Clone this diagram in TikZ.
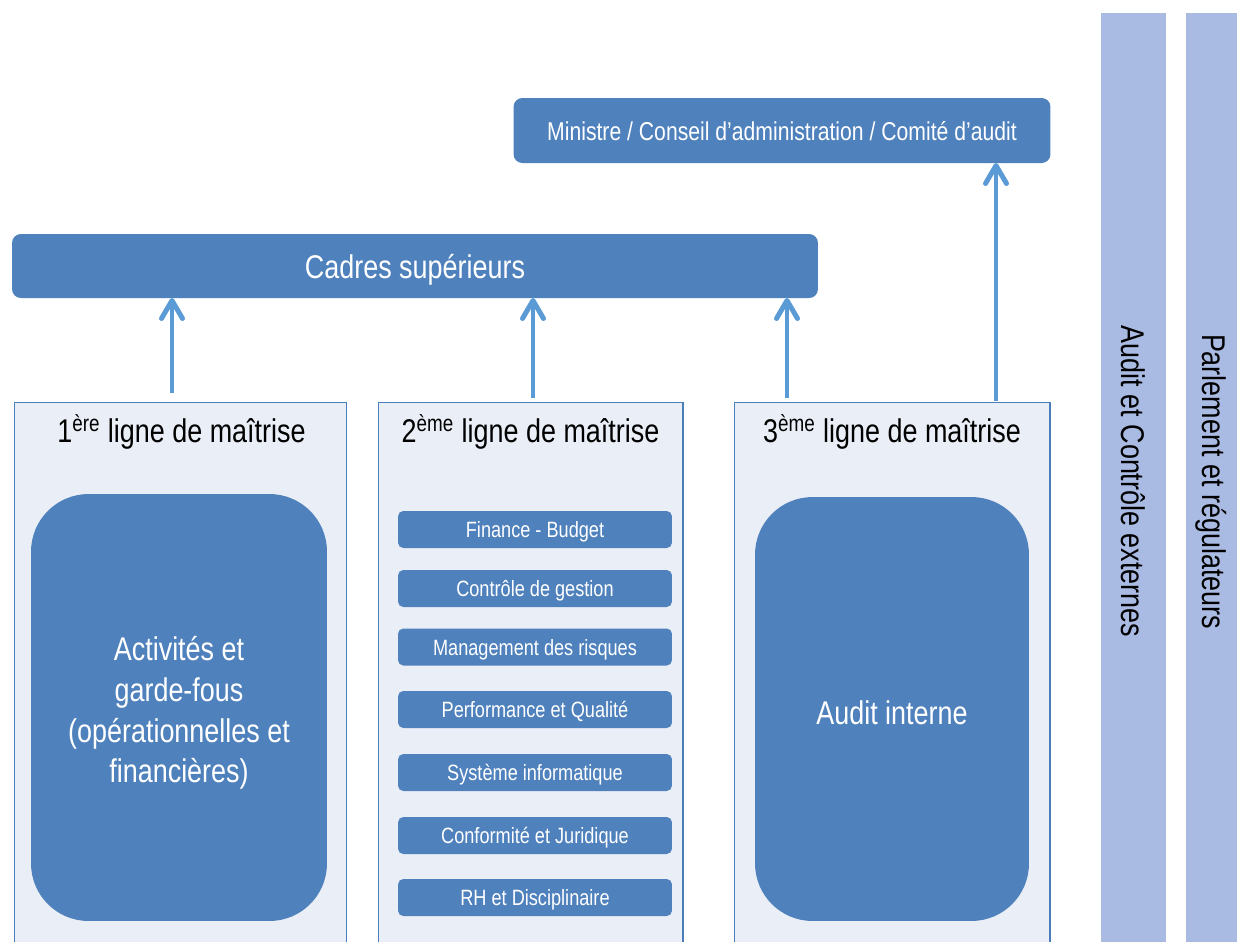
\documentclass[tikz,border=0pt]{standalone}
\usepackage{fontspec}
\setmainfont{Liberation Sans}[FakeStretch=0.82]
\usetikzlibrary{arrows.meta}
\definecolor{boxblue}{HTML}{4F81BD}
\definecolor{arrblue}{HTML}{5B9BD5}
\definecolor{colfill}{HTML}{EAEEF6}
\definecolor{colline}{HTML}{4A7EBB}
\definecolor{barblue}{HTML}{A9BAE3}
\newcommand{\bigtxt}{\fontsize{18.7pt}{23.2pt}\selectfont}
\newcommand{\midtxt}{\fontsize{14.7pt}{17pt}\selectfont}
\newcommand{\smalltxt}{\fontsize{12.6pt}{15pt}\selectfont}
\begin{document}
\begin{tikzpicture}[x=0.02cm,y=-0.02cm,
  bluebox/.style={fill=boxblue, draw=none, text=white, inner sep=0pt, outer sep=0pt, align=center},
  colbox/.style={fill=colfill, draw=colline, line width=0.6pt, inner sep=0pt, outer sep=0pt},
  smallbox/.style={bluebox, rounded corners=3pt, minimum width=5.48cm, minimum height=0.74cm, font=\smalltxt, text depth=0pt},
  bigbox/.style={bluebox, rounded corners=1.15cm},
  bigtext/.style={text=white, align=center, font=\bigtxt, inner sep=0pt},
  barbox/.style={fill=barblue, draw=none, inner sep=0pt, outer sep=0pt, rotate=-90, font=\bigtxt},
  head/.style={font=\bigtxt, text=black, inner sep=0pt},
  arr/.style={draw=arrblue, line width=2.83pt, -{Straight Barb[length=0.36cm, width=0.42cm, round]}}
]
\useasboundingbox (0,0) rectangle (1237,941);
\clip (0,0) rectangle (1237,941);
\fill[white] (0,0) rectangle (1237,941);

% right bars
\node[barbox, minimum width=18.74cm, minimum height=1.30cm] (bar1) at (1133.5,481.5) {Audit et Contrôle externes};
\node[barbox, minimum width=18.74cm, minimum height=1.02cm] (bar2) at (1211.5,481.5) {Parlement et régulateurs};

% top boxes
\node[bluebox, rounded corners=5pt, minimum width=10.74cm, minimum height=1.30cm, font=\midtxt, text depth=0pt] (mini) at (782,130.5) {Ministre / Conseil d’administration / Comité d’audit};
\node[bluebox, rounded corners=5pt, minimum width=16.12cm, minimum height=1.28cm, font=\bigtxt, text depth=0pt] (cadres) at (415,266) {Cadres supérieurs};

% columns
\node[colbox, minimum width=6.66cm, minimum height=10.96cm] (col1) at (180.5,676) {};
\node[colbox, minimum width=6.10cm, minimum height=10.96cm] (col2) at (530.5,676) {};
\node[colbox, minimum width=6.32cm, minimum height=10.96cm] (col3) at (892,676) {};

\node[head] (h1) at (181.5,432) {1\textsuperscript{ère} ligne de maîtrise};
\node[head] (h2) at (530.5,432) {2\textsuperscript{ème} ligne de maîtrise};
\node[head] (h3) at (892,432) {3\textsuperscript{ème} ligne de maîtrise};

% inner boxes
\node[bigbox, minimum width=5.92cm, minimum height=8.54cm] (act) at (179,707.5) {};
\node[bigtext] (acttext) at (179,713) {Activités et\\garde-fous\\(opérationnelles et\\financières)};
\node[bigbox, minimum width=5.48cm, minimum height=8.48cm] (audit) at (892,709) {};
\node[bigtext, text depth=0pt] (audittext) at (892,713) {Audit interne};

\node[smallbox] (s1) at (535,529.5) {Finance - Budget};
\node[smallbox] (s2) at (535,588.5) {Contrôle de gestion};
\node[smallbox] (s3) at (535,647) {Management des risques};
\node[smallbox] (s4) at (535,709.5) {Performance et Qualité};
\node[smallbox] (s5) at (535,772.5) {Système informatique};
\node[smallbox] (s6) at (535,835.5) {Conformité et Juridique};
\node[smallbox] (s7) at (535,897.5) {RH et Disciplinaire};

% arrows
\coordinate (a1) at (172,393);
\coordinate (a2) at (533,398);
\coordinate (a3) at (787,398);
\coordinate (a4) at (996,401);
\draw[arr] (a1) -- (a1 |- cadres.south);
\draw[arr] (a2) -- (a2 |- cadres.south);
\draw[arr] (a3) -- (a3 |- cadres.south);
\draw[arr] (a4) -- (a4 |- mini.south);
\end{tikzpicture}
\end{document}
